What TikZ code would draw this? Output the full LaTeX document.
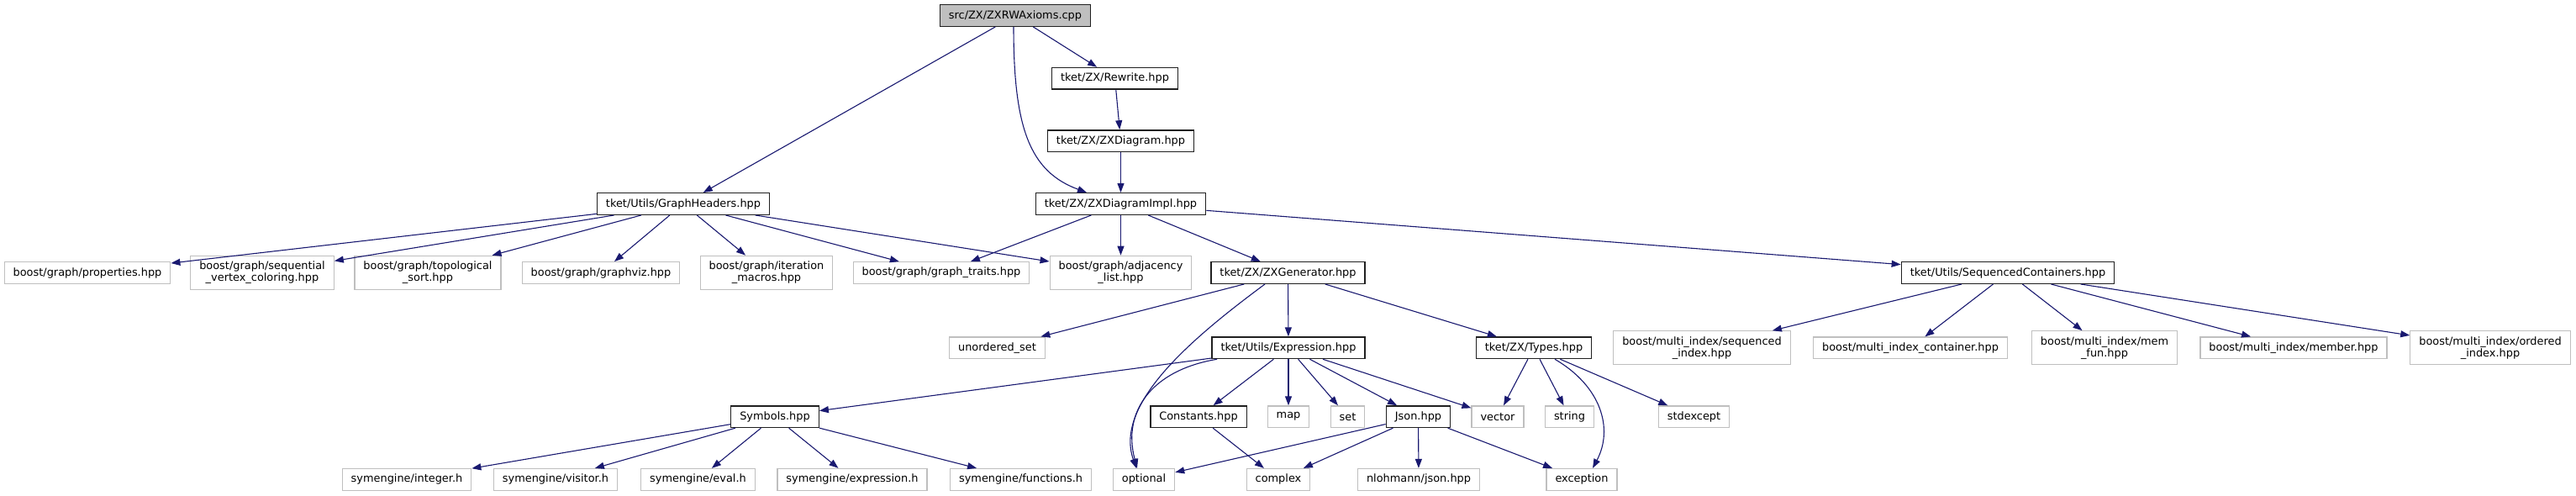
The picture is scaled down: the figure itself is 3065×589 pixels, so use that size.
\documentclass[tikz,border=0pt]{standalone}
\usepackage{fontspec}
\setmainfont{DejaVu Sans}
\definecolor{edgeblue}{HTML}{191970}
\definecolor{boxgray}{HTML}{BFBFBF}
\definecolor{rootfill}{HTML}{BFBFBF}
\definecolor{hdrline}{HTML}{202020}
\usetikzlibrary{arrows.meta}

\begin{document}
\begin{tikzpicture}[x=1pt, y=-1pt,
  ext/.style={rectangle, fill=white, draw=boxgray, line width=1.2pt, align=center,
              font=\fontsize{12.9}{14}\selectfont, inner xsep=10.5pt, inner ysep=3pt,
              minimum height=25.6pt},
  hdr/.style={ext, draw=hdrline, line width=1.4pt},
  two/.style={minimum height=40pt},
  ar/.style={-{Triangle[length=11pt, width=8pt]}, line width=1.1pt, color=edgeblue},
]
\useasboundingbox (0,0) rectangle (3065,589);
% top of the tree
\node[hdr, fill=rootfill] (root) at (1208,18.5) {src/ZX/ZXRWAxioms.cpp};
\node[hdr] (rewrite) at (1326.5,93.3) {tket/ZX/Rewrite.hpp};
\node[hdr] (zxd) at (1333.5,167.7) {tket/ZX/ZXDiagram.hpp};
\node[hdr] (impl) at (1333.5,242.5) {tket/ZX/ZXDiagramImpl.hpp};
\node[hdr] (gh) at (813,242.5) {tket/Utils/GraphHeaders.hpp};
% boost graph row
\node[ext] (props) at (104,324.5) {boost/graph/properties.hpp};
\node[ext, two] (seqcol) at (312,324.3) {boost/graph/sequential\\\_vertex\_coloring.hpp};
\node[ext, two] (topo) at (509,324.3) {boost/graph/topological\\\_sort.hpp};
\node[ext] (gviz) at (715,324.5) {boost/graph/graphviz.hpp};
\node[ext, two] (iter) at (912,324.3) {boost/graph/iteration\\\_macros.hpp};
\node[ext] (traits) at (1120,324.5) {boost/graph/graph\_traits.hpp};
\node[ext, two] (adj) at (1333.5,324.3) {boost/graph/adjacency\\\_list.hpp};
\node[hdr] (gen) at (1532.5,324.5) {tket/ZX/ZXGenerator.hpp};
\node[hdr] (seqc) at (2389,324.5) {tket/Utils/SequencedContainers.hpp};
% second row
\node[ext] (uset) at (1186.5,413.8) {unordered\_set};
\node[hdr] (expr) at (1533,413.8) {tket/Utils/Expression.hpp};
\node[hdr] (types) at (1825,413.8) {tket/ZX/Types.hpp};
\node[ext, two] (seqidx) at (2025,413.8) {boost/multi\_index/sequenced\\\_index.hpp};
\node[ext] (mic) at (2273,413.8) {boost/multi\_index\_container.hpp};
\node[ext, two] (memfun) at (2504,413.8) {boost/multi\_index/mem\\\_fun.hpp};
\node[ext] (member) at (2729,413.8) {boost/multi\_index/member.hpp};
\node[ext, two] (ordidx) at (2963,413.8) {boost/multi\_index/ordered\\\_index.hpp};
% third row
\node[hdr] (symbols) at (922,495.7) {Symbols.hpp};
\node[hdr] (consts) at (1426,495.7) {Constants.hpp};
\node[ext] (map) at (1533,495.7) {map};
\node[ext] (set) at (1603.5,495.7) {set};
\node[hdr] (json) at (1687.5,495.7) {Json.hpp};
\node[ext] (vector) at (1782,495.7) {vector};
\node[ext] (string) at (1867.5,495.7) {string};
\node[ext] (stdexc) at (2015.5,495.7) {stdexcept};
% bottom row
\node[ext] (integer) at (484,570.3) {symengine/integer.h};
\node[ext] (visitor) at (661,570.3) {symengine/visitor.h};
\node[ext] (eval) at (830.5,570.3) {symengine/eval.h};
\node[ext] (symexpr) at (1014,570.3) {symengine/expression.h};
\node[ext] (funcs) at (1214.6,570.3) {symengine/functions.h};
\node[ext] (optional) at (1361,570.3) {optional};
\node[ext] (complex) at (1521,570.3) {complex};
\node[ext] (nljson) at (1688,570.3) {nlohmann/json.hpp};
\node[ext] (exc) at (1882,570.3) {exception};

% edges
\draw[ar] (root)--(gh); \draw[ar] (root)--(rewrite);
\draw[ar] ([xshift=-2pt]root.south) .. controls +(0,120) and +(-68,-25) .. ([xshift=-40.5pt]impl.north);
\draw[ar] (rewrite)--(zxd); \draw[ar] (zxd)--(impl);
\draw[ar] (gh)--(props); \draw[ar] (gh)--(seqcol); \draw[ar] (gh)--(topo); \draw[ar] (gh)--(gviz);
\draw[ar] (gh)--(iter); \draw[ar] (gh)--(traits); \draw[ar] (gh)--(adj);
\draw[ar] (impl)--(traits); \draw[ar] (impl)--(adj); \draw[ar] (impl)--(gen); \draw[ar] (impl)--(seqc);
\draw[ar] (gen)--(uset); \draw[ar] (gen)--(expr); \draw[ar] (gen)--(types);
\draw[ar] ([xshift=-27.5pt]gen.south) .. controls +(-85,63) and +(-27,-77) .. ([xshift=-9pt]optional.north);
\draw[ar] (expr)--(symbols); \draw[ar] (expr)--(consts); \draw[ar] (expr)--(map); \draw[ar] (expr)--(set);
\draw[ar] (expr)--(json); \draw[ar] (expr)--(vector);
\draw[ar] ([xshift=-85pt]expr.south) .. controls +(-78,13) and +(-18,-67) .. ([xshift=-8pt]optional.north);
\draw[ar] (types)--(vector); \draw[ar] (types)--(string); \draw[ar] (types)--(stdexc);
\draw[ar] ([xshift=25pt]types.south) .. controls +(55,32) and +(25,-47) .. ([xshift=13pt]exc.north);
\draw[ar] (symbols)--(integer); \draw[ar] (symbols)--(visitor); \draw[ar] (symbols)--(eval);
\draw[ar] (symbols)--(symexpr); \draw[ar] (symbols)--(funcs);
\draw[ar] (consts)--(complex);
\draw[ar] (json)--(optional); \draw[ar] (json)--(complex); \draw[ar] (json)--(nljson); \draw[ar] (json)--(exc);
\draw[ar] (seqc)--(seqidx); \draw[ar] (seqc)--(mic); \draw[ar] (seqc)--(memfun);
\draw[ar] (seqc)--(member); \draw[ar] (seqc)--(ordidx);
\end{tikzpicture}
\end{document}
